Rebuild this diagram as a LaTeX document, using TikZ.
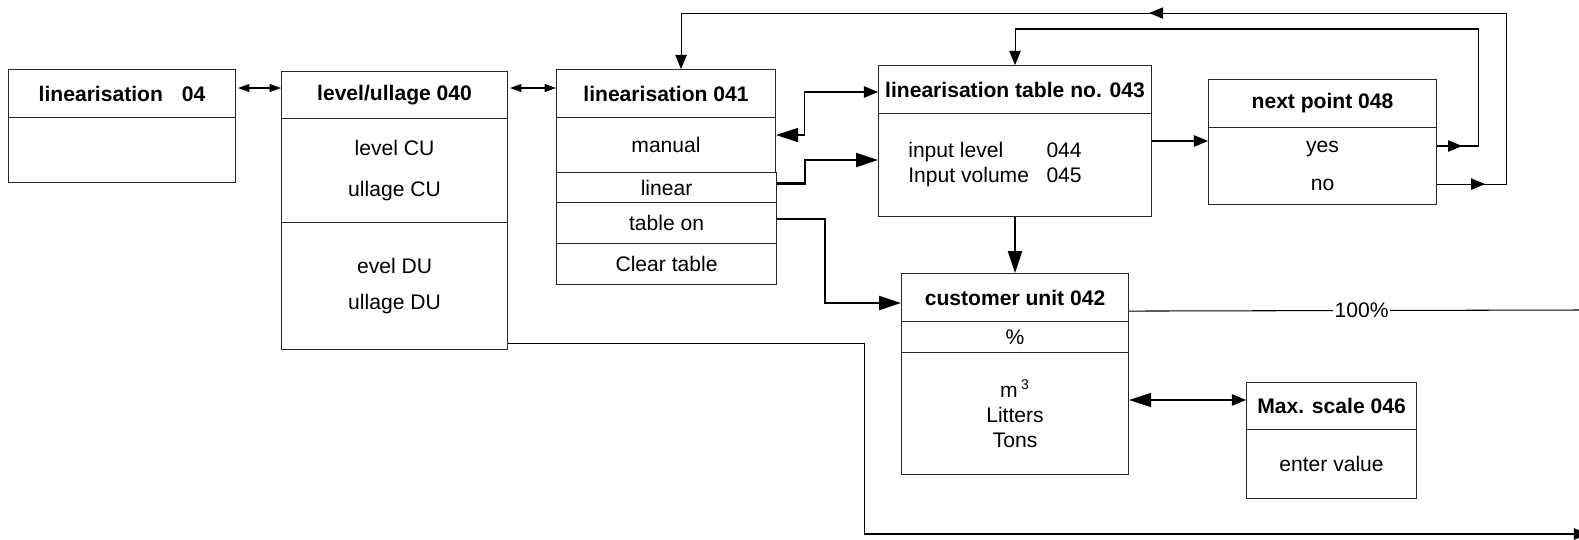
\documentclass[tikz,border=0pt]{standalone}
\usepackage{fontspec}
\setmainfont{Liberation Sans}
\usetikzlibrary{arrows.meta,calc,decorations.markings}

\tikzset{
  tipS/.tip={Triangle[length=6.5pt,width=4.5pt]},
  tipM/.tip={Triangle[length=8pt,width=6.5pt]},
  tipL/.tip={Triangle[length=12.5pt,width=8pt]},
  cell/.style 2 args={draw=black!85, line width=0.6pt, anchor=north west, inner sep=0pt,
    align=center, minimum width=#1*0.02cm, minimum height=#2*0.02cm},
  hdr/.style 2 args={cell={#1}{#2}, font=\fontsize{12}{14.2}\selectfont\bfseries},
  wire/.style={line width=0.6pt},
  bold wire/.style={line width=1.2pt},
}

\begin{document}
\begin{tikzpicture}[x=0.02cm, y=-0.02cm, font=\fontsize{12}{14.2}\selectfont]
\useasboundingbox (0,0) rectangle (1579,539);

% Boxes
\node[hdr={227}{48}] (lin04h) at (8,69) {linearisation\hspace{0.9em}04};
\node[cell={227}{65}] (lin04b) at (8,117) {};

\node[hdr={226}{47}] (lu040h) at (281,71) {level/ullage 040};
\node[cell={226}{104}] (lu040c) at (281,118) {level CU\\[9pt]ullage CU};
\node[cell={226}{127}] (lu040d) at (281,222) {evel DU\\[6pt]ullage DU};

\node[hdr={219}{48}] (lin041h) at (556,69) {linearisation 041};
\node[cell={219}{55}] (lin041m) at (556,117) {manual};
\node[cell={220}{30}] (lin041l) at (556,172) {linear};
\node[cell={220}{41}] (lin041t) at (556,202) {table on};
\node[cell={220}{41}] (lin041c) at (556,243) {Clear table};

\node[hdr={273}{48}] (tab043h) at (878,65) {linearisation table no. 043};
\node[cell={273}{103}] (tab043b) at (878,113)
  {\begin{tabular}{@{}l@{\hspace{0.35cm}}l@{}}input level & 044\\ Input volume & 045\end{tabular}\hspace*{0.8cm}};

\node[hdr={228}{48}] (np048h) at (1208,79) {next point 048};
\node[cell={228}{77}] (np048b) at (1208,127) {yes\\[7pt]no};

\node[hdr={227}{48}] (cu042h) at (901,273) {customer unit 042};
\node[cell={227}{31}] (cu042p) at (901,321) {\%};
\node[cell={227}{122}] (cu042b) at (901,352) {m\,\textsuperscript{3}\\Litters\\Tons};

\node[hdr={170}{47}] (ms046h) at (1246,382) {Max. scale 046};
\node[cell={170}{69}] (ms046b) at (1246,429) {enter value};

% Free ends at the right edge
\coordinate (pctend) at (1579,310);
\coordinate (lvlend) at (1588,534);

% Connectors
\draw[wire, {tipS}-{tipS}] ($(lin04h.north east)+(2,19)$) -- ($(lu040h.north west)+(0,17)$);
\draw[wire, {tipS}-{tipS}] ($(lu040h.north east)+(2,17)$) -- ($(lin041h.north west)+(0,19)$);

\draw[wire, {tipL}-{tipM}] ($(lin041m.north east)+(0,18)$) -- ++(28,0) |- ($(tab043h.north west)+(0,27)$);
\draw[bold wire, -{tipL}] ($(lin041l.east)+(0,-4)$) -- ++(28,0) |- ($(tab043b.north west)+(0,47)$);
\draw[bold wire, -{tipL}] ($(lin041t.east)+(0,-4)$) -- ++(48,0) |- ($(cu042h.north west)+(0,30)$);
\draw[bold wire, -{tipL}] (tab043b.south) -- (cu042h.north);
\draw[wire, -{tipM}] ($(tab043b.north east)+(0,28)$) -- ($(np048b.north west)+(0,14)$);

% yes / no loops
\draw[wire, -{tipM}, postaction={decorate},
  decoration={markings, mark=at position 0.5cm with {\arrow{tipM}}}]
  ($(np048b.north east)+(0,19)$) -- ++(41,0) -- ++(0,-117) -| (tab043h.north);
\draw[wire, -{tipM}, postaction={decorate},
  decoration={markings, mark=at position 0.96cm with {\arrow{tipM}},
    mark=at position 11.94cm with {\arrow{tipM}}}]
  ($(np048b.south east)+(0,-21)$) -- ++(69,0) -- ++(0,-171) -| ($(lin041h.north)+(15,0)$);

% outputs
\draw[wire] ($(cu042h.south east)+(0,-11)$) -- node[pos=0.517, fill=white, inner sep=1pt] {100\%} (pctend);
\draw[wire, -{tipM}] ($(lu040d.south east)+(0,-7)$) -- ++(356,0) |- (lvlend);
\draw[wire, {tipL}-{tipM}] ($(cu042b.north east)+(0,48)$) -- ($(ms046h.north west)+(0,18)$);
\end{tikzpicture}
\end{document}
